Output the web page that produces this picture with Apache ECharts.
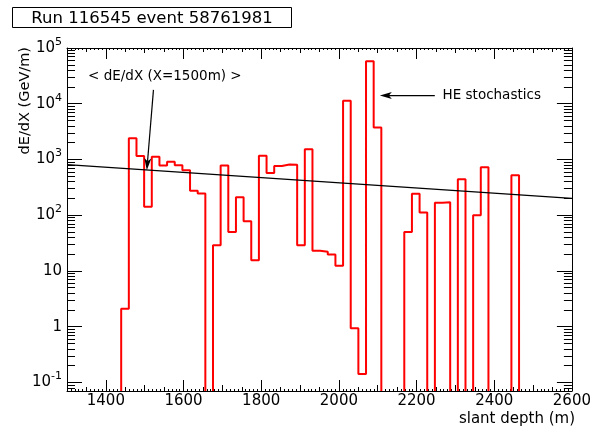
<!DOCTYPE html>
<html><head><meta charset="utf-8">
<script src="https://cdn.jsdelivr.net/npm/echarts@6/dist/echarts.min.js"></script>
<style>html,body{margin:0;padding:0;background:#fff}#c{width:594px;height:430px}</style>
</head><body><div id="c"></div>
<script>
// ---------- data ----------
const runLabel = 'Run 116545 event 58761981';
const xTitle = 'slant depth (m)';
const yTitle = 'dE/dX (GeV/m)';
const binLow = 1439.5;      // lower edge of first filled bin
const binWidth = 19.7;      // histogram bin width (m)
const dEdX = [2.1, 2390, 1150, 142, 1120, 780, 910, 790, 640, 275, 246, 0, 29, 780, 50, 210, 78, 15.5,
  1170, 570, 760, 810, 800, 29, 1530, 23, 22, 19.7, 12.4, 11300, 0.94, 0.142, 58000, 3730, 0, 0, 0,
  50, 243, 112, 0, 167, 170, 0, 440, 0, 100, 724, 0, 0, 0, 519];
const fitX = [1300, 2600];
const fitY = [810, 200];
const xRange = [1300, 2600];
const yRange = [0.07, 100000];
const emptyLevel = 0.0675;  // empty bins drawn just under the frame bottom
const xLabelTicks = [1400, 1600, 1800, 2000, 2200, 2400, 2600];
const x100Ticks = [1500, 1700, 1900, 2100, 2300, 2500];
const x50Ticks = [1350, 1450, 1550, 1650, 1750, 1850, 1950, 2050, 2150, 2250, 2350, 2450, 2550];
const yDecadeTicks = [0.1, 1, 10, 100, 1000, 10000, 100000];
const yMinorMult = [2, 3, 4, 5, 6, 7, 8, 9];
const noteDedx = '< dE/dX (X=1500m) >';
const noteHE = 'HE stochastics';

// ---------- derived ----------
const x10Ticks = [];
for (let v = xRange[0] + 10; v < xRange[1]; v += 10) if (v % 50 !== 0) x10Ticks.push(v);
const yMinorTicks = [];
[0.01].concat(yDecadeTicks).forEach(d => yMinorMult.forEach(m => {
  const v = Number((m * d).toPrecision(6));
  if (v >= yRange[0] && v <= yRange[1]) yMinorTicks.push(v);
}));
const histPts = [[xRange[0], emptyLevel]];
dEdX.forEach((v, k) => histPts.push([binLow + k * binWidth, v > 0 ? v : emptyLevel]));
histPts.push([binLow + dEdX.length * binWidth, emptyLevel]);
histPts.push([xRange[1], emptyLevel]);
const fitPts = fitX.map((x, i) => [x, fitY[i]]);

const FONT = 'DejaVu Sans';
const black = '#000';

function xAx(pos, ticks, len, extra) {
  return Object.assign({
    type: 'value', position: pos, min: xRange[0], max: xRange[1], gridIndex: 0,
    axisLine: { show: false }, splitLine: { show: false }, axisLabel: { show: false },
    axisTick: { show: true, inside: true, length: len, customValues: ticks, lineStyle: { color: black, width: 1 } }
  }, extra || {});
}
function yAx(pos, ticks, len, extra) {
  return Object.assign({
    type: 'log', logBase: 10, position: pos, min: yRange[0], max: yRange[1], gridIndex: 0,
    axisLine: { show: false }, splitLine: { show: false }, axisLabel: { show: false },
    axisTick: { show: true, inside: true, length: len, customValues: ticks, lineStyle: { color: black, width: 1 } }
  }, extra || {});
}
const lineOn = { show: true, onZero: false, lineStyle: { color: black, width: 1 } };

const option = {
  animation: false,
  backgroundColor: '#fff',
  textStyle: { fontFamily: FONT },
  grid: { left: 67, right: 19, top: 48, bottom: 39, containLabel: false },
  xAxis: [
    xAx('bottom', xLabelTicks, 11, {
      z: 5, axisLine: lineOn,
      axisLabel: { show: true, customValues: xLabelTicks, margin: 3, color: black, fontSize: 15, fontFamily: FONT,
        formatter: v => String(Math.round(v)) }
    }),
    xAx('bottom', x100Ticks, 6),
    xAx('bottom', x50Ticks, 4),
    xAx('bottom', x10Ticks, 2),
    xAx('top', xLabelTicks, 11, { z: 5, axisLine: lineOn }),
    xAx('top', x100Ticks, 5),
    xAx('top', x50Ticks, 4),
    xAx('top', x10Ticks, 2)
  ],
  yAxis: [
    yAx('left', yDecadeTicks, 15, {
      z: 5, axisLine: lineOn,
      axisLabel: { show: true, customValues: yDecadeTicks, margin: 5, color: black, fontFamily: FONT,
        formatter: v => {
          const n = Math.round(Math.log10(v));
          if (n === 0) return '{b|1}';
          if (n === 1) return '{b|10}';
          return '{b|10}{s|' + n + '}';
        },
        rich: {
          b: { fontSize: 15, fontFamily: FONT, color: black, lineHeight: 15, padding: [3, 0, 0, 0], verticalAlign: 'bottom' },
          s: { fontSize: 11, fontFamily: FONT, color: black, lineHeight: 10, padding: [0, 0, 8, 0], verticalAlign: 'bottom' }
        }
      }
    }),
    yAx('left', yMinorTicks, 8),
    yAx('right', yDecadeTicks, 15, { z: 5, axisLine: lineOn }),
    yAx('right', yMinorTicks, 8)
  ],
  series: [
    { type: 'line', name: 'hist', xAxisIndex: 0, yAxisIndex: 0, data: histPts, step: 'end',
      symbol: 'none', showSymbol: false, silent: true, clip: true, z: 2,
      lineStyle: { color: '#ff0000', width: 2 }, itemStyle: { color: '#ff0000' } },
    { type: 'line', name: 'fit', xAxisIndex: 0, yAxisIndex: 0, data: fitPts,
      symbol: 'none', showSymbol: false, silent: true, clip: true, z: 3,
      lineStyle: { color: black, width: 1.2 }, itemStyle: { color: black } }
  ]
};

const chart = echarts.init(document.getElementById('c'), null, { renderer: 'canvas' });
chart.setOption(option);

// ---------- annotations (placed in data coordinates) ----------
const notes = {
  dedxText: [1552, 31000], dedxTail: [1522.6, 17700], dedxTip: [1505.5, 641],
  heText: [2267, 14000], heTail: [2247, 14000], heTip: [2105.5, 14000]
};
function px(p) { return chart.convertToPixel({ xAxisIndex: 0, yAxisIndex: 0 }, p); }
function arrow(tail, tip) {
  const a = px(tail), b = px(tip);
  const dx = b[0] - a[0], dy = b[1] - a[1], L = Math.hypot(dx, dy);
  const ux = dx / L, uy = dy / L, nx = -uy, ny = ux;
  const hl = 12, hw = 3.5;
  const base = [b[0] - ux * hl, b[1] - uy * hl];
  const notch = [b[0] - ux * hl * 0.75, b[1] - uy * hl * 0.75];
  return [
    { type: 'line', silent: true, z: 20, shape: { x1: a[0], y1: a[1], x2: notch[0], y2: notch[1] }, style: { stroke: black, lineWidth: 1.2 } },
    { type: 'polygon', silent: true, z: 20, shape: { points: [b, [base[0] + nx * hw, base[1] + ny * hw], notch, [base[0] - nx * hw, base[1] - ny * hw]] }, style: { fill: black } }
  ];
}
const tD = px(notes.dedxText), tH = px(notes.heText);
chart.setOption({
  graphic: [
    { type: 'rect', silent: true, z: 20, shape: { x: 12.5, y: 7.5, width: 279, height: 20 }, style: { fill: '#fff', stroke: black, lineWidth: 1 } },
    { type: 'text', silent: true, z: 21, x: 152, y: 18.3, style: { text: runLabel, font: '16.5px "DejaVu Sans"', fill: black, align: 'center', verticalAlign: 'middle' } },
    { type: 'text', silent: true, z: 21, x: 575, y: 419, style: { text: xTitle, font: '15px "DejaVu Sans"', fill: black, align: 'right', verticalAlign: 'middle' } },
    { type: 'text', silent: true, z: 21, x: 25, y: 47, rotation: Math.PI / 2, style: { text: yTitle, font: '14.5px "DejaVu Sans"', fill: black, align: 'right', verticalAlign: 'middle' } },
    { type: 'text', silent: true, z: 21, x: tD[0], y: tD[1], style: { text: noteDedx, font: '13.5px "DejaVu Sans"', fill: black, align: 'center', verticalAlign: 'middle' } },
    { type: 'text', silent: true, z: 21, x: tH[0], y: tH[1], style: { text: noteHE, font: '13.5px "DejaVu Sans"', fill: black, align: 'left', verticalAlign: 'middle' } }
  ].concat(arrow(notes.dedxTail, notes.dedxTip), arrow(notes.heTail, notes.heTip))
});
</script>
</body></html>
